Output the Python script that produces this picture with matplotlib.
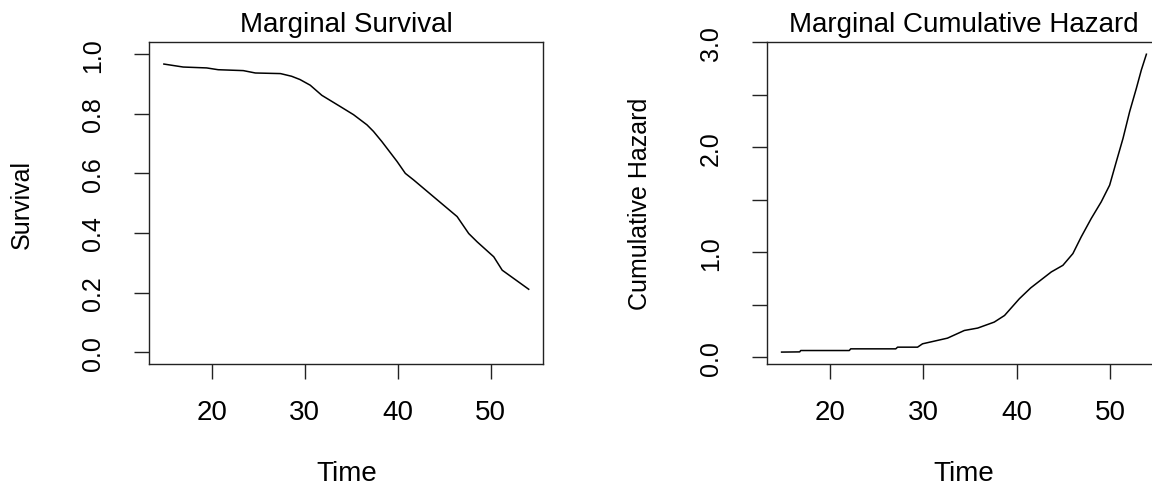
import numpy as np
import matplotlib
matplotlib.use('Agg')
import matplotlib.pyplot as plt

# marginal survival curve
surv_time = [14.86, 16.94, 19.46, 20.7, 23.4, 24.7, 27.4, 28.6, 29.5, 30.6, 31.85,
             33.8, 35.26, 36.7, 37.4, 38.3, 39.94, 40.83, 41.72, 44.0, 46.4, 47.65,
             48.56, 50.34, 51.25, 54.1]
surv = [0.967, 0.957, 0.954, 0.948, 0.945, 0.937, 0.935, 0.926, 0.915, 0.896, 0.862,
        0.825, 0.797, 0.763, 0.741, 0.707, 0.640, 0.600, 0.578, 0.518, 0.455, 0.398,
        0.370, 0.320, 0.275, 0.211]

# marginal cumulative hazard
haz_time = [14.86, 16.8, 16.9, 22.1, 22.25, 27.07, 27.26, 29.4, 29.93, 32.6, 34.4,
            35.83, 37.6, 38.7, 40.29, 41.5, 43.7, 44.94, 46.01, 46.9, 47.97, 49.04,
            49.94, 50.65, 51.37, 52.08, 52.8, 53.33, 53.87]
haz = [0.048, 0.050, 0.063, 0.063, 0.079, 0.079, 0.095, 0.095, 0.127, 0.181, 0.254,
       0.277, 0.334, 0.397, 0.557, 0.660, 0.812, 0.875, 0.987, 1.146, 1.321, 1.480,
       1.639, 1.862, 2.085, 2.340, 2.563, 2.737, 2.887]

x_ticks = [20, 30, 40, 50]
surv_ticks = [0.0, 0.2, 0.4, 0.6, 0.8, 1.0]
haz_ticks = [0.0, 0.5, 1.0, 1.5, 2.0, 2.5, 3.0]
haz_tick_labels = ['0.0', '', '1.0', '', '2.0', '', '3.0']

plt.rcParams['font.family'] = ['Liberation Sans', 'DejaVu Sans']
FS_H = 20   # horizontal text
FS_V = 18   # rotated text on the y axis

fig = plt.figure(figsize=(11.52, 4.85), dpi=100)
ax1 = fig.add_axes([0.1296, 0.2474, 0.342, 0.6633])
ax2 = fig.add_axes([0.6658, 0.2474, 0.342, 0.6633])


def style(ax, title, ylabel, yticks, ylabels):
    ax.set_title(title, fontsize=FS_H, pad=8.4)
    ax.set_xticks(x_ticks)
    ax.set_xticklabels([str(t) for t in x_ticks])
    ax.set_yticks(yticks)
    ax.set_yticklabels(ylabels, rotation=90, va='center')
    ax.tick_params(axis='both', direction='out', length=10.8, width=1.0,
                   color='#222222')
    ax.tick_params(axis='x', pad=14.5, labelsize=FS_H)
    ax.tick_params(axis='y', pad=21, labelsize=FS_V)
    ax.set_xlabel('Time', fontsize=FS_H)
    ax.xaxis.set_label_coords(0.5, -0.298)
    ax.set_ylabel(ylabel, fontsize=FS_V, va='center')
    ax.yaxis.set_label_coords(-0.323, 0.5)
    for s in ax.spines.values():
        s.set_linewidth(1.0)
        s.set_color('#222222')


ax1.plot(surv_time, surv, color='black', lw=1.1)
ax1.set_ylim(-0.04, 1.04)
ax1.margins(x=0.04)
style(ax1, 'Marginal Survival', 'Survival', surv_ticks,
      ['%.1f' % v for v in surv_ticks])

ax2.plot(haz_time, haz, color='black', lw=1.1)
ax2.margins(x=0.04, y=0.04)
style(ax2, 'Marginal Cumulative Hazard', 'Cumulative Hazard', haz_ticks,
      haz_tick_labels)

fig.savefig('out.png', dpi=100)
